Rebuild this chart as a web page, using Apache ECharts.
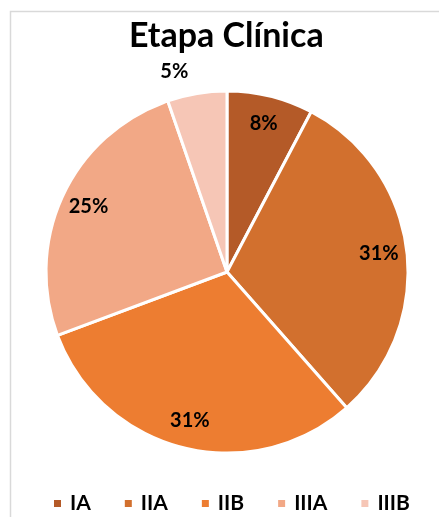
<!DOCTYPE html>
<html>
<head>
<meta charset="utf-8">
<script src="https://cdn.jsdelivr.net/npm/echarts@6/dist/echarts.min.js"></script>
<style>
    html, body { margin: 0; padding: 0; background: #fff; }
    #chart { width: 439px; height: 517px; }
</style>
</head>
<body>
<div id="chart"></div>
<script>
var categories = ["IA", "IIA", "IIB", "IIIA", "IIIB"];
var values = [7.7, 30.8, 30.8, 25.4, 5.3];
var colors = ["#B45A28", "#D2702E", "#ED7D31", "#F2A886", "#F6C6B6"];

var fontFamily = "Lato, 'Open Sans', sans-serif";
var chart = echarts.init(document.getElementById("chart"));

var pieData = categories.map(function (name, i) {
    return {
        name: name,
        value: values[i],
        itemStyle: { color: colors[i] }
    };
});

// transparent ring used only to place the labels at ~0.8 of the radius
var labelData = categories.map(function (name, i) {
    var item = {
        name: name,
        value: values[i]
    };
    if (name == "IIIB") {
        item.label = { position: "outside" };
        item.labelLine = { show: false, length: 22, length2: 0 };
    }
    return item;
});

var option = {
    animation: false,
    textStyle: { fontFamily: fontFamily },
    graphic: [{
        type: "rect",
        left: 8,
        top: 9,
        shape: { width: 520, height: 600 },
        style: { fill: "none", stroke: "#D9D9D9", lineWidth: 1.5 },
        silent: true
    }],
    title: {
        text: "Etapa Clínica",
        left: 124,
        top: 14,
        textStyle: {
            fontFamily: fontFamily,
            fontSize: 34,
            fontWeight: "bold",
            color: "#000"
        }
    },
    legend: {
        data: categories,
        bottom: -2,
        left: 47,
        itemWidth: 9,
        itemHeight: 9,
        itemGap: 32,
        icon: "rect",
        textStyle: {
            fontFamily: fontFamily,
            fontSize: 21,
            fontWeight: "bold",
            color: "#000",
            padding: [0, 0, 0, 3]
        }
    },
    series: [{
        name: "Etapa",
        type: "pie",
        center: [227, 272],
        radius: [0, 181],
        startAngle: 90,
        clockwise: true,
        data: pieData,
        itemStyle: { borderColor: "#fff", borderWidth: 3 },
        label: { show: false },
        labelLine: { show: false },
        emphasis: { disabled: true }
    }, {
        name: "labels",
        type: "pie",
        center: [227, 272],
        radius: [119, 181],
        startAngle: 90,
        clockwise: true,
        silent: true,
        legendHoverLink: false,
        data: labelData,
        itemStyle: { color: "rgba(0,0,0,0)" },
        label: {
            show: true,
            position: "inside",
            formatter: function (p) {
                return Math.round(p.value) + "%";
            },
            fontFamily: fontFamily,
            fontSize: 20,
            fontWeight: "bold",
            color: "#000"
        },
        labelLine: { show: false },
        emphasis: { disabled: true }
    }]
};

chart.setOption(option);
</script>
</body>
</html>
